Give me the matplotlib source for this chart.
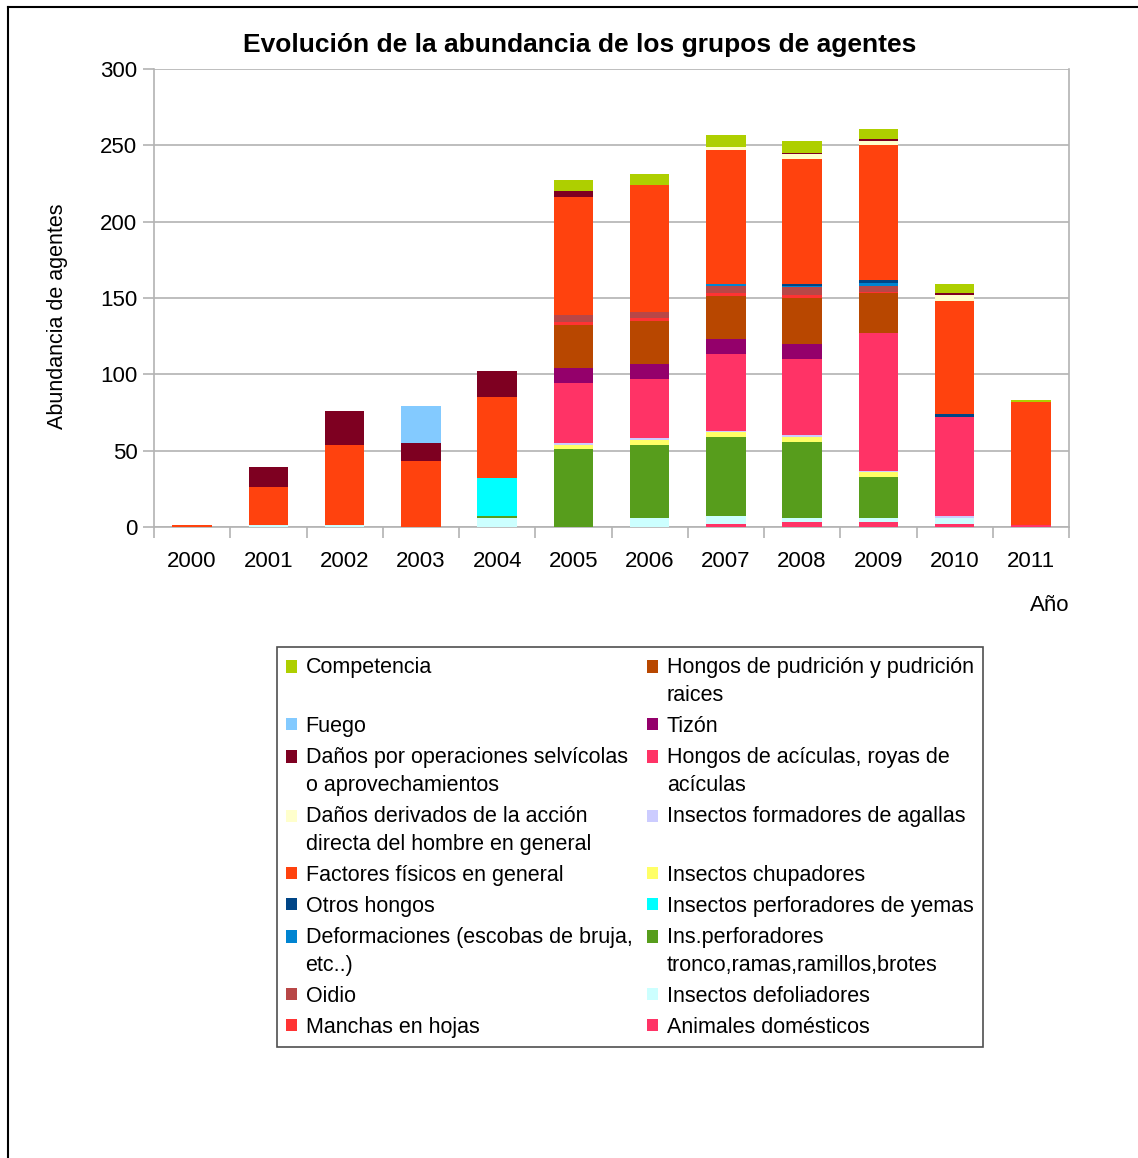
import numpy as np
import matplotlib
matplotlib.use('Agg')
import matplotlib.pyplot as plt
from matplotlib.patches import Rectangle
from matplotlib.lines import Line2D
from matplotlib.legend_handler import HandlerPatch

plt.rcParams['font.family'] = ['Liberation Sans', 'DejaVu Sans']

years = ['2000', '2001', '2002', '2003', '2004', '2005',
         '2006', '2007', '2008', '2009', '2010', '2011']

# series listed from the bottom of the stack upwards
animales_domesticos = [0, 0, 0, 0, 0, 0, 0, 2, 3, 3, 2, 1]
insectos_defoliadores = [0, 1, 1, 0, 6, 0, 6, 5, 3, 3, 4, 0]
ins_perf_tronco = [0, 0, 0, 0, 1, 51, 48, 52, 50, 27, 0, 0]
insectos_perf_yemas = [0, 0, 0, 0, 25, 0, 0, 0, 0, 0, 0, 0]
insectos_chupadores = [0, 0, 0, 0, 0, 3, 3, 3, 3, 3, 0, 0]
insectos_agallas = [0, 0, 0, 0, 0, 1, 1, 1, 1, 1, 1, 0]
hongos_aciculas = [0, 0, 0, 0, 0, 39, 39, 50, 50, 90, 65, 0]
tizon = [0, 0, 0, 0, 0, 10, 10, 10, 10, 0, 0, 0]
hongos_pudricion = [0, 0, 0, 0, 0, 28, 28, 28, 30, 26, 0, 0]
manchas_hojas = [0, 0, 0, 0, 0, 2, 2, 2, 2, 1, 0, 0]
oidio = [0, 0, 0, 0, 0, 5, 4, 5, 5, 4, 0, 0]
deformaciones = [0, 0, 0, 0, 0, 0, 0, 1, 1, 2, 0, 0]
otros_hongos = [0, 0, 0, 0, 0, 0, 0, 0, 1, 2, 2, 0]
factores_fisicos = [1, 25, 53, 43, 53, 77, 83, 88, 82, 88, 74, 81]
danos_derivados = [0, 0, 0, 0, 0, 0, 0, 2, 3, 3, 4, 0]
danos_operaciones = [0, 13, 22, 12, 17, 4, 0, 0, 1, 1, 1, 0]
fuego = [0, 0, 0, 24, 0, 0, 0, 0, 0, 0, 0, 0]
competencia = [0, 0, 0, 0, 0, 7, 7, 8, 8, 7, 6, 1]

series = [
    ('Animales domésticos', animales_domesticos, '#ff3366'),
    ('Insectos defoliadores', insectos_defoliadores, '#ccffff'),
    ('Ins.perforadores\ntronco,ramas,ramillos,brotes', ins_perf_tronco, '#579d1c'),
    ('Insectos perforadores de yemas', insectos_perf_yemas, '#00ffff'),
    ('Insectos chupadores', insectos_chupadores, '#ffff66'),
    ('Insectos formadores de agallas\n ', insectos_agallas, '#ccccff'),
    ('Hongos de acículas, royas de\nacículas', hongos_aciculas, '#ff3366'),
    ('Tizón', tizon, '#94006b'),
    ('Hongos de pudrición y pudrición\nraices', hongos_pudricion, '#b84700'),
    ('Manchas en hojas', manchas_hojas, '#ff3333'),
    ('Oidio', oidio, '#b84747'),
    ('Deformaciones (escobas de bruja,\netc..)', deformaciones, '#0084d1'),
    ('Otros hongos', otros_hongos, '#004586'),
    ('Factores físicos en general', factores_fisicos, '#ff420e'),
    ('Daños derivados de la acción\ndirecta del hombre en general', danos_derivados, '#ffffcc'),
    ('Daños por operaciones selvícolas\no aprovechamientos', danos_operaciones, '#7e0021'),
    ('Fuego', fuego, '#83caff'),
    ('Competencia\n ', competencia, '#aecf00'),
]

fig = plt.figure(figsize=(11.38, 11.58), dpi=100)
ax = fig.add_axes([154 / 1138, 1 - 527 / 1158, 915 / 1138, 458 / 1158])

x = np.arange(len(years))
bottom = np.zeros(len(years))
handles, labels = [], []
for label, vals, color in series:
    vals = np.array(vals, dtype=float)
    bars = ax.bar(x, vals, 0.52, bottom=bottom, color=color, label=label,
                  linewidth=0, zorder=3)
    bottom += vals
    handles.append(bars.patches[0])
    labels.append(label)

grid_c = '#b3b3b3'
ax.set_xlim(-0.5, len(years) - 0.5)
ax.set_ylim(0, 300)
ax.set_yticks(np.arange(0, 301, 50))
ax.yaxis.grid(True, color=grid_c, linewidth=1.2, zorder=0)
for s in ax.spines.values():
    s.set_color(grid_c)
    s.set_linewidth(1.2)
ax.spines['top'].set_visible(False)
ax.tick_params(axis='y', length=8, width=1.2, color=grid_c, labelsize=16, pad=4)

# boundary ticks between years, labels centred on each bar
ax.set_xticks(np.arange(-0.5, len(years), 1.0))
ax.set_xticklabels([])
ax.set_xticks(x, minor=True)
ax.set_xticklabels(years, minor=True)
ax.tick_params(axis='x', which='major', length=8, width=1.2, color=grid_c)
ax.tick_params(axis='x', which='minor', length=0, labelsize=16, pad=17)

ax.set_ylabel('Abundancia de agentes', fontsize=15.5)
ax.yaxis.set_label_coords(-0.094, 0.46)
ax.set_xlabel('Año', fontsize=16, loc='right')
ax.xaxis.set_label_coords(1.0, -0.148)

fig.text(580 / 1138, 1 - 45 / 1158, 'Evolución de la abundancia de los grupos de agentes',
         ha='center', va='center', fontsize=19, fontweight='bold')


# markers sit on the first line of two-line legend entries
def top_square(legend, orig_handle, xdescent, ydescent, width, height, fontsize):
    return Rectangle((-xdescent, -ydescent + 0.7 * fontsize), width, height)


leg_handles = handles[::-1]
leg_labels = labels[::-1]
handler_map = {}
for h, lab in zip(leg_handles, leg_labels):
    if '\n' in lab:
        handler_map[h] = HandlerPatch(patch_func=top_square)

leg = fig.legend(leg_handles, leg_labels, ncol=2, loc='upper center',
                 bbox_to_anchor=(630 / 1138, 1 - 647 / 1158),
                 fontsize=15.5, frameon=True, fancybox=False, borderaxespad=0,
                 handlelength=0.5, handleheight=0.5, handletextpad=0.4,
                 columnspacing=0.7, labelspacing=0.46, borderpad=0.45,
                 handler_map=handler_map)
for t in leg.get_texts():
    t.set_linespacing(1.45)
leg.get_frame().set_edgecolor('#222222')
leg.get_frame().set_linewidth(1.2)

# outer frame lines
fig.add_artist(Line2D([8 / 1138, 8 / 1138], [0, 1 - 7 / 1158], color='black',
                      linewidth=1.5, transform=fig.transFigure))
fig.add_artist(Line2D([8 / 1138, 1], [1 - 7 / 1158, 1 - 7 / 1158], color='black',
                      linewidth=1.5, transform=fig.transFigure))

fig.savefig('out.png', dpi=100)
